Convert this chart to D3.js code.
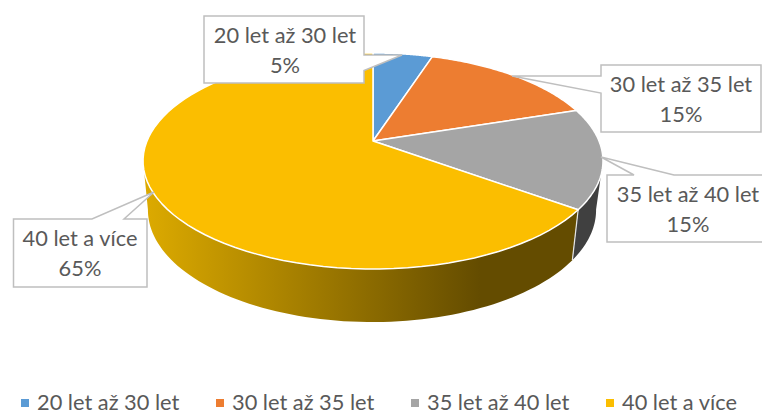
<!DOCTYPE html>
<html>
<head>
<meta charset="utf-8">
<script src="https://cdn.jsdelivr.net/npm/d3@7"></script>
<style>
  body { margin: 0; background: #fff; }
  svg { display: block; }
  text { font-family: Lato, "Open Sans", sans-serif; fill: #595959; }
</style>
</head>
<body>
<div id="chart"></div>
<script>
// 1: DATA
const categories = ["20 let až 30 let", "30 let až 35 let", "35 let až 40 let", "40 let a více"];
const shares = [5, 15, 15, 65];
const sliceColors = ["#5b9bd5", "#ed7d31", "#a5a5a5", "#fbbe00"];

const width = 762;
const height = 412;

const svg = d3.select("#chart")
    .append("svg")
    .attr("width", width)
    .attr("height", height);

const color = d3.scaleOrdinal().domain(categories).range(sliceColors);

const slices = d3.pie().sort(null).value(d => d.share)(
    categories.map((name, i) => ({ name, share: shares[i] }))
);

// 2: PERSPECTIVE RINGS (top face and the lower rim of the wall)
const topRing = { cx: 373, cy: 141, rx: 226, ry: 104.3, e: 0.185 };
const lowRing = { cx: 372, cy: 188.7, rx: 220, ry: 108, e: 0.19 };

const project = (ring, a) => {
    const k = 1 + ring.e * Math.cos(a);
    return [ring.cx + ring.rx * Math.sin(a) / k, ring.cy - ring.ry * Math.cos(a) / k];
};

const arcPoints = (ring, a0, a1) => d3.range(0, 81).map(i => project(ring, a0 + (a1 - a0) * i / 80));
const line = d3.line();

// 3: SIDE WALL
const silhouette = Math.acos(-topRing.e);
const wallPath = (a0, a1) =>
    line(arcPoints(topRing, a0, a1).concat(arcPoints(lowRing, a1, a0))) + "Z";

const gradient = svg.append("defs").append("linearGradient")
    .attr("id", "wallShade")
    .attr("gradientUnits", "userSpaceOnUse")
    .attr("x1", 146).attr("x2", 480)
    .attr("y1", 0).attr("y2", 0);
gradient.append("stop").attr("offset", 0).attr("stop-color", "#dcaa00");
gradient.append("stop").attr("offset", 1).attr("stop-color", "#644c00");

const grayYellow = slices[2].endAngle;

svg.append("path")
    .attr("d", wallPath(grayYellow, 2 * Math.PI - silhouette))
    .attr("fill", "url(#wallShade)");

svg.append("path")
    .attr("d", wallPath(silhouette, grayYellow))
    .attr("fill", "#404040");

svg.append("path")
    .attr("d", line([project(topRing, grayYellow), project(lowRing, grayYellow)]))
    .attr("fill", "none")
    .attr("stroke", "#e6e6e6")
    .attr("stroke-width", 1.2);

// 4: TOP FACE
svg.selectAll(".slice")
    .data(slices)
    .enter()
    .append("path")
    .attr("class", "slice")
    .attr("d", d => line([[topRing.cx, topRing.cy]].concat(arcPoints(topRing, d.startAngle, d.endAngle))) + "Z")
    .attr("fill", d => color(d.data.name))
    .attr("stroke", "#fff")
    .attr("stroke-width", 1.5)
    .attr("stroke-linejoin", "round");

// 5: CALLOUT LABELS
const callouts = [
    { y: 16, tx: 285, outline: "M204,16H364V55L402,55L364,70.5V83H204Z" },
    { y: 65, tx: 681, outline: "M601,65H761V132H601V93L512,76H601Z" },
    { y: 175, tx: 688, outline: "M607,175H634L601,157L674,175H767V242H607Z" },
    { y: 219, tx: 80, outline: "M13.5,219H92L154,192L124,219H147V287H13.5Z" }
];

const labels = svg.selectAll(".callout")
    .data(slices)
    .enter()
    .append("g")
    .attr("class", "callout");

labels.append("path")
    .attr("d", (d, i) => callouts[i].outline)
    .attr("fill", "#fff")
    .attr("stroke", "#bfbfbf")
    .attr("stroke-width", 1.5);

labels.append("text")
    .attr("x", (d, i) => callouts[i].tx)
    .attr("y", (d, i) => callouts[i].y + 27)
    .attr("text-anchor", "middle")
    .style("font-size", "21.8px")
    .text(d => d.data.name);

labels.append("text")
    .attr("x", (d, i) => callouts[i].tx)
    .attr("y", (d, i) => callouts[i].y + 57)
    .attr("text-anchor", "middle")
    .style("font-size", "21.8px")
    .text(d => d.data.share + "%");

// 6: LEGEND
const legendX = d3.scalePoint().domain(categories).range([21, 606]);

const legend = svg.selectAll(".legend")
    .data(categories)
    .enter()
    .append("g")
    .attr("class", "legend")
    .attr("transform", d => `translate(${legendX(d)}, 399)`);

legend.append("rect")
    .attr("width", 8)
    .attr("height", 8)
    .attr("fill", d => color(d));

legend.append("text")
    .attr("x", 16)
    .attr("y", 11)
    .style("font-size", "21.8px")
    .text(d => d);
</script>
</body>
</html>
